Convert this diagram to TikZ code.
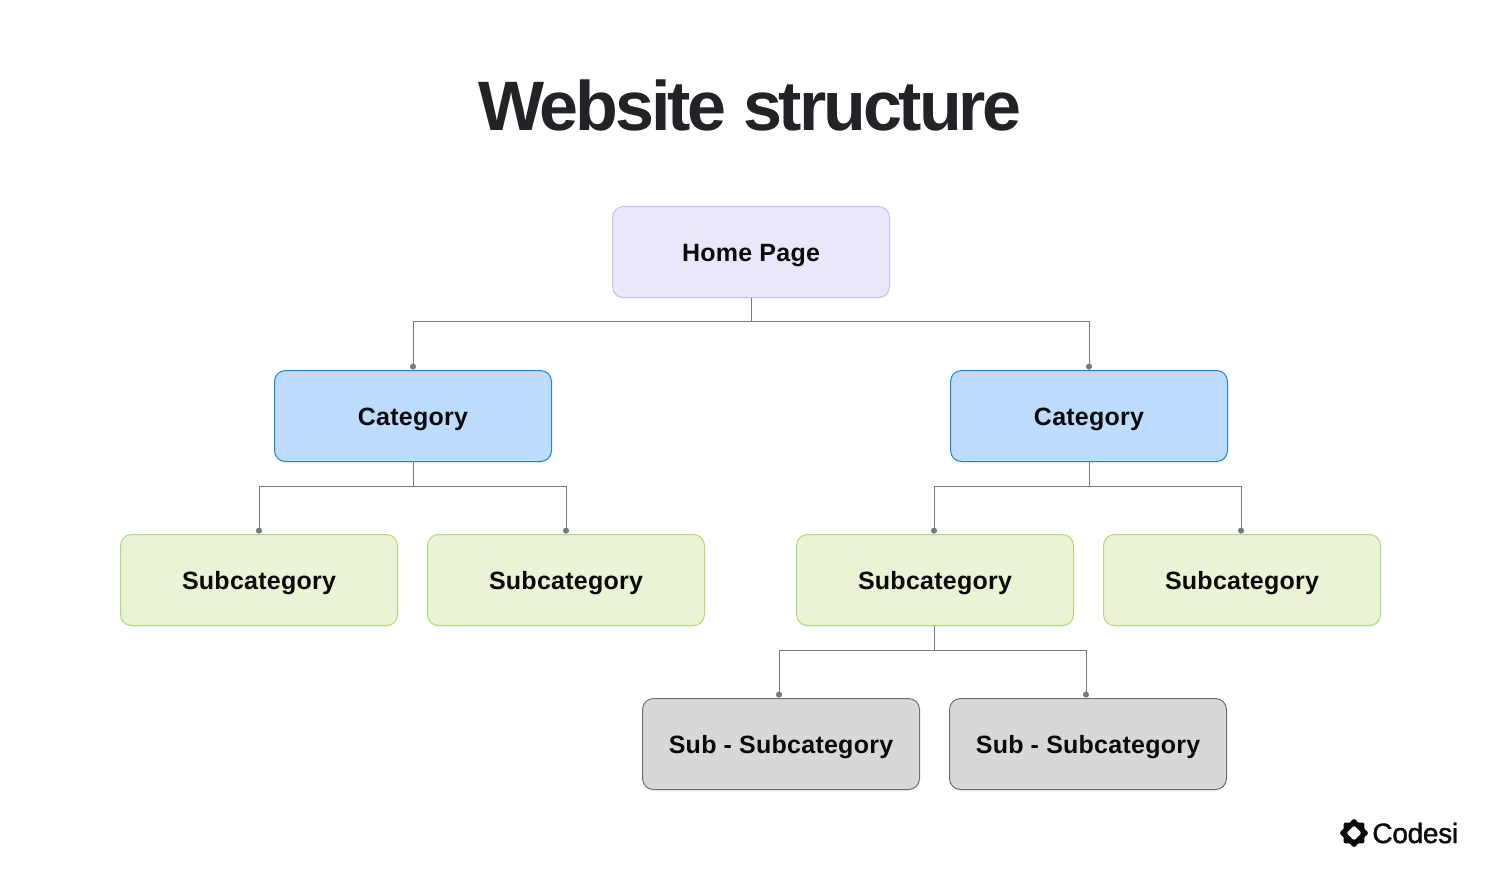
\documentclass[tikz,border=0pt]{standalone}
\usepackage{fontspec}
\setmainfont{Liberation Sans}
\newfontfamily\titlefont[LetterSpace=-4.4]{Liberation Sans}
\newfontfamily\labelfont[LetterSpace=1]{Liberation Sans}
\newfontfamily\logofont[FakeBold=1.5,LetterSpace=-1]{Liberation Sans}
\usetikzlibrary{arrows.meta,shadows}
\definecolor{inkblack}{HTML}{0A0A0A}
\definecolor{titleink}{HTML}{222326}
\definecolor{linegray}{HTML}{7A7A7A}
\tikzset{
    box/.style={draw,line width=0.5pt,rounded corners=5.5pt,minimum width=138.5pt,minimum height=45.5pt,
        inner sep=0pt,text=inkblack,text height=9.5pt,text depth=0.5pt,font=\labelfont\bfseries\fontsize{12.5}{15}\selectfont,
        drop shadow={opacity=0.07,shadow xshift=0pt,shadow yshift=-1pt}},
    homebox/.style={box,fill=homefill,draw=homeline},
    catbox/.style={box,fill=catfill,draw=catline},
    subbox/.style={box,fill=subfill,draw=subline},
    subsubbox/.style={box,fill=subsubfill,draw=subsubline},
    bus/.style={draw=linegray,line width=0.5pt},
    drop/.style={bus,-{Circle[length=3pt,width=3pt]},shorten >=0.2pt},
}
\definecolor{homefill}{HTML}{E9E8FB}
\definecolor{homeline}{HTML}{C4C2EC}
\definecolor{catfill}{HTML}{BDDCFE}
\definecolor{catline}{HTML}{1E83D6}
\definecolor{subfill}{HTML}{EAF3D3}
\definecolor{subline}{HTML}{B5D97A}
\definecolor{subsubfill}{HTML}{D8D8D8}
\definecolor{subsubline}{HTML}{6F6F6F}
\begin{document}
\begin{tikzpicture}[x=0.5pt,y=-0.5pt]
    \useasboundingbox (0,0) rectangle (1500,879);
    \node[font=\titlefont\bfseries\fontsize{35}{40}\selectfont,text=titleink,inner sep=0pt] (title) at (750,105) {Website structure};
    \node[homebox] (home) at (751,252) {Home Page};
    \foreach \n/\x in {catA/413,catB/1089}{
        \node[catbox] (\n) at (\x,416) {Category};
    }
    \foreach \n/\x in {subA/259,subB/566,subC/935,subD/1242}{
        \node[subbox] (\n) at (\x,580) {Subcategory};
    }
    \foreach \n/\x in {subsubA/781,subsubB/1088}{
        \node[subsubbox] (\n) at (\x,744) {Sub - Subcategory};
    }
    % connectors
    \foreach \p/\k/\h in {home/catA/23.5,home/catB/23.5,catA/subA/24.5,catA/subB/24.5}{
        \draw[drop] (\p.south) -- ++(0,\h) -| (\k.north);
    }
    \foreach \k/\s in {subC/-0.5,subD/-0.5}{
        \draw[drop] (catB.south) -- ++(0,24.5) -| ([xshift=\s pt]\k.north);
    }
    \foreach \k in {subsubA,subsubB}{
        \draw[drop] ([xshift=-0.5pt]subC.south) -- ++(0,24) -| ([xshift=-1pt]\k.north);
    }
    % logo
    \fill[inkblack,shift={(1354,833)}] plot[domain=0:360,samples=97,smooth cycle] (\x:{12.6+1.2*cos(8*\x)});
    \fill[white,rounded corners=1pt] (1354,825.5) -- (1361.5,833) -- (1354,840.5) -- (1346.5,833) -- cycle;
    \node[font=\logofont\fontsize{14}{16}\selectfont,text=inkblack,inner sep=0pt,anchor=west] (logo) at (1372,833) {Codesi};
\end{tikzpicture}
\end{document}
